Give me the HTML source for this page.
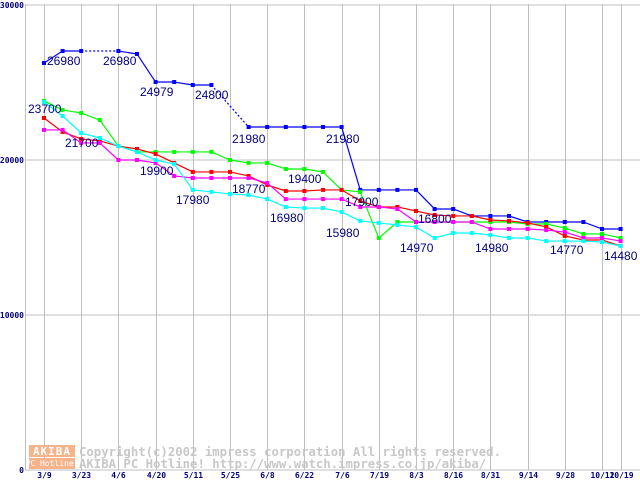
<!DOCTYPE html>
<html><head><meta charset="utf-8"><style>
body{margin:0;background:#fff;}
svg{display:block;font-family:"DejaVu Sans Mono","Liberation Mono",monospace;}
</style></head><body>
<svg id="chart" width="640" height="480" viewBox="0 0 640 480" xmlns="http://www.w3.org/2000/svg">
<rect width="640" height="480" fill="#fff"/>
<g id="grid"></g>
<g id="watermark">
 <rect x="29" y="445" width="46" height="12" fill="#f7b38a"/>
 <text x="52" y="455" font-size="11" fill="#fff" text-anchor="middle" font-weight="bold" letter-spacing="1">AKIBA</text>
 <rect x="29" y="458" width="46" height="11" fill="#f7b38a"/>
 <text x="52" y="466" font-size="8" fill="#fff" text-anchor="middle">PC Hotline!</text>
 <text x="79" y="456" font-size="12.3" fill="#c8c8c8" font-weight="bold">Copyright(c)2002 impress corporation All rights reserved.</text>
 <text x="79" y="468" font-size="12.3" fill="#c8c8c8" font-weight="bold">AKIBA PC Hotline!  http://www.watch.impress.co.jp/akiba/</text>
</g>
<g id="series"></g>
<g id="labels"></g>
<g id="axes"></g>
</svg>
<script>
const xLabels=["3/9","3/23","4/6","4/20","5/11","5/25","6/8","6/22","7/6","7/19","8/3","8/16","8/31","9/14","9/28","10/12","10/19"];
const xLabelIdx=[0,2,4,6,8,10,12,14,16,18,20,22,24,26,28,30,31];
const yTicks=[0,10000,20000,30000];
const blue=[26260,27030,27030,null,27030,26840,25030,25030,24840,24840,null,22130,22130,22130,22130,22130,22130,18070,18070,18070,18070,16840,16840,16390,16390,16390,16000,16000,16000,16000,15550,15550];
const green=[23810,23230,23030,22580,20900,20520,20520,20520,20520,20520,20000,19810,19810,19420,19420,19230,18070,17940,14970,16000,16000,16000,16000,16000,16000,16000,15870,15870,15610,15230,15230,14970];
const red=[22710,21810,21360,21230,20900,20710,20390,19810,19230,19230,19230,18970,18390,18000,18000,18070,18070,17360,16970,16970,16710,16450,16390,16390,16130,16070,15940,15680,15100,14840,14840,14450];
const magenta=[21940,21940,21100,21100,20000,20000,19810,18970,18840,18840,18840,18840,18520,17480,17480,17480,17480,16970,16970,16840,16000,16000,16000,16000,15550,15550,15550,15480,15350,14970,14970,14770];
const cyan=[23740,22840,21740,21420,20900,20520,20000,19740,18070,17940,17810,17740,17480,16970,16900,16900,16650,16070,15940,15810,15680,14970,15290,15290,15160,14970,14970,14770,14770,14770,14710,14450];
const seriesColors=["#0000ff","#00ff00","#ff0000","#ff00ff","#00ffff"];
const seriesNames=["series-blue","series-green","series-red","series-magenta","series-cyan"];
const valueLabels=[["26980",47,60],["26980",103,60],["24979",140,91],["24800",195,94],["21980",232,138],["21980",326,138],["23700",28,108],["21700",65,142],["19900",140,170],["17980",176,199],["18770",232,188],["19400",288,178],["16980",270,217],["17900",345,201],["15980",326,232],["16800",418,218],["14970",400,247],["14980",475,247],["14770",550,249],["14480",604,255]];
const NS="http://www.w3.org/2000/svg";
const X=i=>44+i*18.6;
const Y=v=>470-v*0.0155;
function mk(tag,attrs,parent){const e=document.createElementNS(NS,tag);for(const k in attrs)e.setAttribute(k,attrs[k]);parent.appendChild(e);return e;}
const grid=document.getElementById('grid'),axes=document.getElementById('axes'),sg=document.getElementById('series'),lg=document.getElementById('labels');
yTicks.forEach(t=>{
 const l=mk('line',{x1:25,x2:640,y1:Y(t),y2:Y(t),stroke:'#c0c0c0'},grid);
 
 
 const tx=mk('text',{x:24,y:Y(t)+3,'font-size':8,'font-weight':'bold',fill:'#000080','text-anchor':'end'},axes);
 tx.textContent=String(t);
 
 
});
const ax=mk('line',{x1:25.5,x2:25.5,y1:4,y2:470,stroke:'#c0c0c0'},grid);


xLabels.forEach((lab,k)=>{
 const x=Math.round(X(xLabelIdx[k]))+0.5;
 const l=mk('line',{x1:x,x2:x,y1:4,y2:470,stroke:'#c0c0c0'},grid);
 
 
 const tx=mk('text',{x:x,y:478,'font-size':8,'font-weight':'bold',fill:'#000080','text-anchor':'middle'},axes);
 tx.textContent=lab;
 
 
});
[blue,green,red,magenta,cyan].forEach((arr,s)=>{
 const g=mk('g',{},sg);
 
 
 let prev=-1;
 arr.forEach((v,i)=>{
  if(v===null)return;
  if(prev>=0){
   const seg=mk('line',{x1:X(prev),y1:Y(arr[prev]),x2:X(i),y2:Y(v),stroke:seriesColors[s],'stroke-width':1.2},g);
   if(i-prev>1)seg.setAttribute('stroke-dasharray','2,2');
   
   
  }
  prev=i;
 });
 arr.forEach((v,i)=>{
  if(v===null)return;
  const p=mk('rect',{x:X(i)-2,y:Y(v)-2,width:4,height:4,fill:seriesColors[s]},g);
  
  
 });
});
valueLabels.forEach(([t,x,y])=>{
 const tx=mk('text',{x:x,y:y+5,'font-size':12,fill:'#000080','font-family':'Liberation Sans, sans-serif'},lg);
 tx.textContent=t;
 
 
});
</script>
</body></html>
